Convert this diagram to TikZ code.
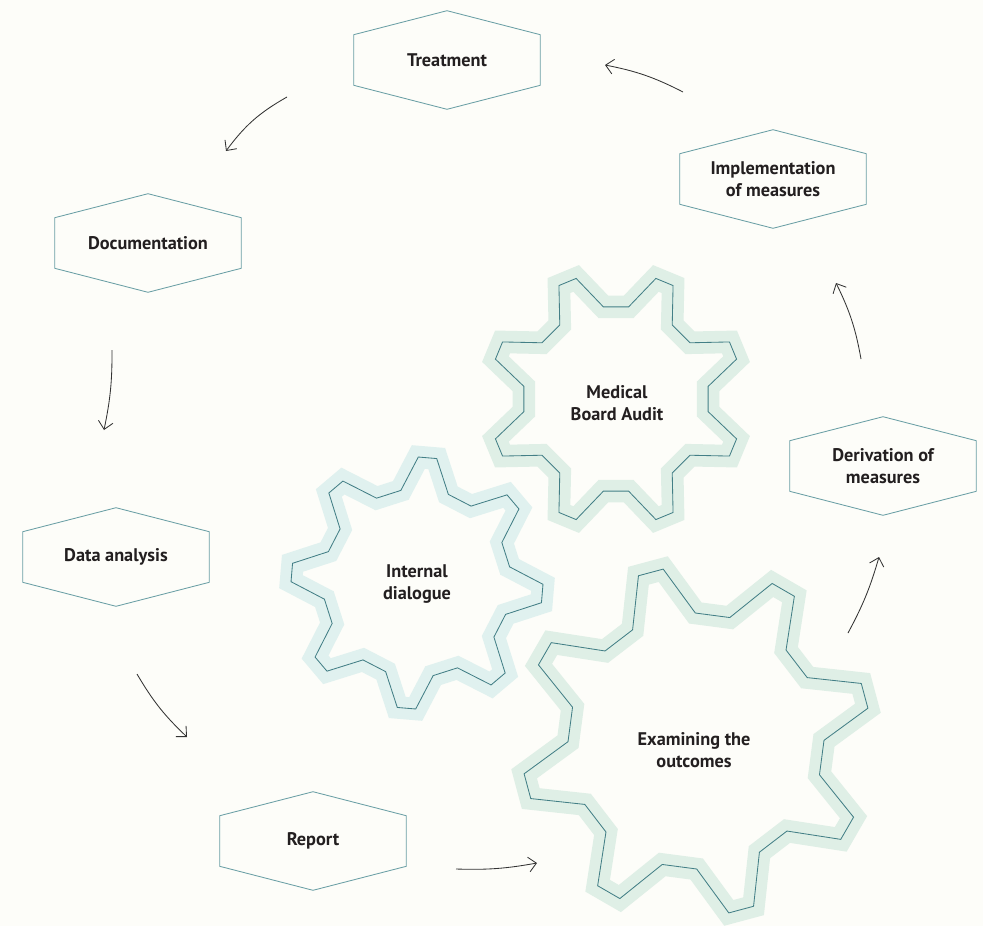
\documentclass[tikz,border=0pt]{standalone}
\usepackage{fontspec}
\setmainfont{PT Sans}
\usetikzlibrary{arrows.meta}
\usetikzlibrary{calc}
\definecolor{paper}{HTML}{FDFDF9}
\definecolor{hexline}{HTML}{6A9FA5}
\definecolor{gearline}{HTML}{437F86}
\definecolor{mint}{HTML}{DFEFE6}
\definecolor{aqua}{HTML}{E0F1EF}
\definecolor{ink}{HTML}{231F20}

% gear outline: center, outer radius, root radius, phase
\newcommand{\gearoutline}[4]{($(#1)+(#4-14.7:#3)$)
    \foreach \k in {0,...,7}{
        -- ($(#1)+(#4+45*\k-4.2:#2)$) -- ($(#1)+(#4+45*\k+4.2:#2)$)
        -- ($(#1)+(#4+45*\k+14.7:#3)$) -- ($(#1)+(#4+45*\k+30.3:#3)$)
    } -- cycle}

\begin{document}
\begin{tikzpicture}[x=0.025cm, y=-0.025cm,
    boxtext/.style={font=\bfseries\fontsize{13}{15.6}\selectfont, text=ink, align=center},
    hexbox/.style={boxtext, minimum width=4.65cm, minimum height=2.45cm, inner sep=0pt},
    hexside/.style={draw=hexline, line width=0.6pt},
    gear/.style={draw=gearline, line width=0.6pt, line join=miter,
        preaction={draw=#1, line width=16pt, line join=miter}},
    flow/.style={draw=black!80, line width=0.6pt, -{Straight Barb[length=5.5pt,width=10.5pt]}}]

    % background
    \fill[paper] (0,0) rectangle (983,926);

    % draw gears
    \coordinate (audit-c) at (616,399);
    \coordinate (dialog-c) at (417,583);
    \coordinate (outcome-c) at (696,741);
    \draw[gear=mint] \gearoutline{audit-c}{127}{93}{22.5};
    \draw[gear=aqua] \gearoutline{dialog-c}{126}{94}{4.8};
    \draw[gear=mint] \gearoutline{outcome-c}{175}{128}{-15};
    \node[boxtext] (audit) at (617,403) {Medical\\Board Audit};
    \node[boxtext] (dialog) at (417,584) {Internal\\dialogue};
    \node[boxtext] (outcome) at (694,750) {Examining the\\outcomes};

    % draw hexagon nodes
    \node[hexbox] (treat) at (447,60) {Treatment};
    \node[hexbox] (doc) at (148,243) {Documentation};
    \node[hexbox] (data) at (116,557) {Data analysis};
    \node[hexbox] (report) at (313,841) {Report};
    \node[hexbox] (deriv) at (883,466) {Derivation of\\measures};
    \node[hexbox] (impl) at (773,179) {Implementation\\of measures};
    \foreach \n in {treat,doc,data,report,deriv,impl}
        \draw[hexside] (\n.north) -- ([yshift=-0.6cm]\n.north east) -- ([yshift=0.6cm]\n.south east)
            -- (\n.south) -- ([yshift=0.6cm]\n.south west) -- ([yshift=-0.6cm]\n.north west) -- cycle;

    % arrow ends
    \coordinate (impl-out) at (683,92);
    \coordinate (treat-in) at (605,65);
    \coordinate (treat-out) at (287,97);
    \coordinate (doc-in) at (226,151);
    \coordinate (doc-out) at (112,350);
    \coordinate (data-in) at (104,430);
    \coordinate (data-out) at (137,674);
    \coordinate (report-in) at (187,737);
    \coordinate (report-out) at (456,869);
    \coordinate (outcome-in) at (537,863);
    \coordinate (outcome-out) at (848,633);
    \coordinate (deriv-in) at (879,557);
    \coordinate (deriv-out) at (861,359);
    \coordinate (impl-in) at (836,283);

    % draw cycle arrows
    \draw[flow] (impl-out) to[bend right=8] (treat-in);
    \draw[flow] (treat-out) to[bend right=12] (doc-in);
    \draw[flow] (doc-out) to[bend left=6] (data-in);
    \draw[flow] (data-out) to[bend right=8] (report-in);
    \draw[flow] (report-out) to[bend right=6] (outcome-in);
    \draw[flow] (outcome-out) to[bend right=6] (deriv-in);
    \draw[flow] (deriv-out) to[bend right=8] (impl-in);
\end{tikzpicture}
\end{document}
